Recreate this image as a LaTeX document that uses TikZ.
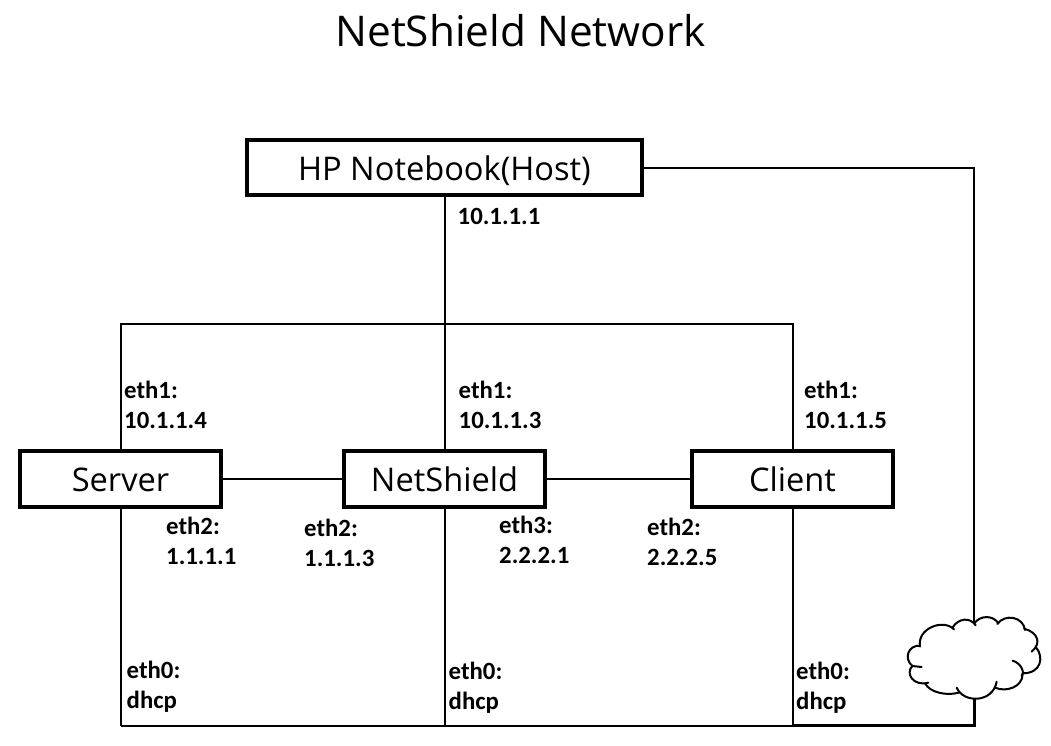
\documentclass[tikz,border=0pt]{standalone}
\usepackage{fontspec}
\setmainfont{Open Sans}
\newfontfamily\lblfont{Carlito}
\tikzset{
 devbox/.style={draw=black,line width=4.5pt,fill=white,inner sep=0pt,text height=25pt,text depth=0pt,font=\fontsize{32.6}{36}\selectfont},
 link/.style={draw=black,line width=2pt},
 thicklink/.style={draw=black,line width=3pt},
 lbl/.style={font=\lblfont\bfseries\fontsize{24.8}{30}\selectfont,align=left,anchor=north west,inner sep=0pt},
}
\begin{document}
\begin{tikzpicture}[x=1pt,y=-1pt]
\useasboundingbox (0,0) rectangle (1051,745);
\node[font=\fontsize{42.3}{48}\selectfont] (title) at (520.5,31) {NetShield Network};
\node[devbox,minimum width=395,minimum height=55] (host) at (444.5,167.5) {HP Notebook(Host)};
\node[devbox,minimum width=201,minimum height=56] (server) at (120.5,479) {Server};
\node[devbox,minimum width=201,minimum height=56] (ns) at (444.5,479) {NetShield};
\node[devbox,minimum width=201,minimum height=56] (client) at (792.5,479) {Client};
\coordinate (top) at (444.5,323.5);
\coordinate (bl) at (120.5,725.5);
\coordinate (bm) at (444.5,725.5);
\coordinate (br) at (792.5,725.5);
\coordinate (be) at (974.3,725.5);
\coordinate (cltop) at (974.3,623);
\coordinate (clbot) at (974.3,698);
\draw[link] (host.south) -- (ns.north);
\draw[link] (server.north) |- (top) -| (client.north);
\draw[link] (server) -- (ns);
\draw[link] (ns) -- (client);
\draw[link] (server.south) -- (bl);
\draw[link] (ns.south) -- (bm);
\draw[link] (client.south) -- (br);
\draw[link] (bl) -- (br);
\draw[thicklink,line join=miter] (br) -- (be) -- (clbot);
\draw[link] (host.east) -| (cltop);
\begin{scope}[shift={(880,590)},x=0.3333pt,y=-0.3333pt,line width=2pt,line cap=round]
\fill[white] (120,165) .. controls (120,120) and (190,90) .. (222,115)
 .. controls (235,90) and (270,85) .. (285,100)
 .. controls (300,80) and (340,80) .. (355,100)
 .. controls (380,75) and (430,85) .. (435,118)
 .. controls (470,130) and (478,160) .. (470,175)
 .. controls (490,200) and (480,245) .. (428,250)
 .. controls (425,285) and (380,305) .. (345,293)
 .. controls (330,335) and (250,335) .. (230,295)
 .. controls (200,315) and (150,305) .. (135,280)
 .. controls (100,280) and (80,250) .. (97,228)
 .. controls (70,205) and (85,165) .. (120,165) -- cycle;
\draw (120,170) .. controls (110,115) and (190,85) .. (222,118);
\draw (218,112) .. controls (235,85) and (270,80) .. (287,106);
\draw (283,100) .. controls (300,75) and (340,75) .. (355,100);
\draw (352,102) .. controls (375,70) and (430,80) .. (435,120);
\draw (433,116) .. controls (475,128) and (485,160) .. (455,185);
\draw (468,172) .. controls (492,200) and (485,250) .. (428,250);
\draw (398,212) .. controls (425,220) and (435,250) .. (425,258);
\draw (428,252) .. controls (428,290) and (380,308) .. (345,293);
\draw (350,275) .. controls (338,340) and (250,340) .. (230,293);
\draw (236,308) .. controls (200,318) and (150,308) .. (135,280);
\draw (145,278) .. controls (100,290) and (75,250) .. (97,228) -- (125,231);
\draw (97,228) .. controls (70,205) and (85,165) .. (120,167);
\end{scope}
\node[lbl] (a) at (457.5,208) {10.1.1.1};
\node[lbl] (b) at (124,381) {eth1:\\10.1.1.4};
\node[lbl] (c) at (458.5,381) {eth1:\\10.1.1.3};
\node[lbl] (d) at (804,381) {eth1:\\10.1.1.5};
\node[lbl] (e) at (166,517) {eth2:\\1.1.1.1};
\node[lbl] (f) at (304,519) {eth2:\\1.1.1.3};
\node[lbl] (g) at (499,516) {eth3:\\2.2.2.1};
\node[lbl] (h) at (647,518) {eth2:\\2.2.2.5};
\node[lbl] (i) at (126.5,661) {eth0:\\dhcp};
\node[lbl] (j) at (448.5,662) {eth0:\\dhcp};
\node[lbl] (k) at (796,662) {eth0:\\dhcp};
\end{tikzpicture}
\end{document}
